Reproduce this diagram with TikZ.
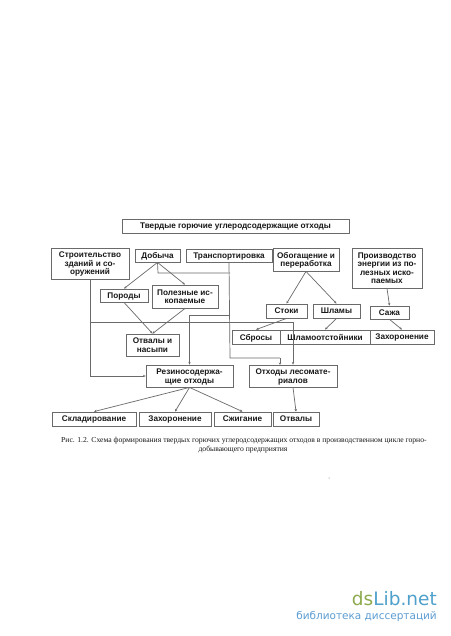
\documentclass[tikz,border=0pt]{standalone}
\usepackage{fontspec}
\setmainfont{Liberation Sans}
\newfontfamily\capfont{Liberation Serif}
\newfontfamily\logofont{DejaVu Sans}
\usetikzlibrary{arrows.meta,calc}
\definecolor{ink}{HTML}{181818}
\definecolor{wire}{HTML}{6A6A6A}
\definecolor{logogreen}{HTML}{8DAA4E}
\definecolor{logoblue}{HTML}{4FA0CB}
\definecolor{logotext}{HTML}{5C9DD2}
\tikzset{
  boxed/.style={draw=wire,line width=0.85pt,inner sep=0pt,align=center,text=ink,text depth=-1.4pt,
     font=\fontsize{8.2}{8.5}\selectfont\bfseries},
  link/.style={draw=wire,line width=0.7pt},
  arrowlink/.style={link,-{Stealth[length=2.6pt,width=2.4pt]}},
  captext/.style={inner sep=0pt,text=ink,font=\capfont\fontsize{7.65}{8}\selectfont},
}
% \bx{name}{x1}{y1}{x2}{y2}{text}
\newcommand{\bx}[6]{\node[boxed,minimum width={(#4-#2)*1pt},minimum height={(#5-#3)*1pt}] (#1) at ({(#2+#4)/2},{(#3+#5)/2}) {#6};}
\begin{document}
\begin{tikzpicture}[x=1pt,y=-1pt]
\useasboundingbox[fill=white] (0,0) rectangle (450,636);
\bx{title}{122}{219}{349}{233}{Твердые горючие углеродсодержащие отходы}
\bx{stroit}{51}{248}{129}{279}{Строительство\\зданий и со-\\оружений}
\bx{dob}{135}{249}{180}{262}{Добыча}
\bx{trans}{186}{249}{272}{262}{Транспортировка}
\bx{obog}{273}{248}{339}{271}{Обогащение и\\переработка}
\bx{proizv}{352}{248}{422}{288}{Производство\\энергии из по-\\лезных иско-\\паемых}
\bx{porody}{100}{289}{148}{302}{Породы}
\bx{polez}{152}{285}{218}{308}{Полезные ис-\\копаемые}
\bx{stoki}{266}{304}{307}{318}{Стоки}
\bx{shlamy}{313}{304}{360}{318}{Шламы}
\bx{sazha}{370}{306}{409}{319}{Сажа}
\bx{sbrosy}{232}{330}{280}{344}{Сбросы}
\bx{shlamoot}{280}{330}{370}{344}{Шламоотстойники}
\bx{zah}{370}{330}{434}{344}{Захоронение}
\bx{nasypi}{126}{334}{179}{356}{Отвалы и\\насыпи}
\bx{rez}{146}{365}{233}{387}{Резиносодержа-\\щие отходы}
\bx{les}{249}{365}{337}{387}{Отходы лесомате-\\риалов}
\bx{sklad}{52}{412}{136}{426}{Складирование}
\bx{zahb}{139}{412}{211}{426}{Захоронение}
\bx{szhig}{214}{412}{271}{426}{Сжигание}
\bx{otv}{273}{412}{319}{426}{Отвалы}

\coordinate (stroitj) at (90,322);
\coordinate (dobj) at (158,273);
\coordinate (dobe) at (230,273);
\coordinate (transj) at (230,315);
\coordinate (transk) at (230,358);
\coordinate (lesin) at (280,365);
\coordinate (lesk) at (280,358);

\draw[arrowlink] (stroit.south) |- (rez.west);
\draw[arrowlink] (stroitj) -| (les.north);
\draw[link] (dob.south) -- (dobj) -- (dobe);
\draw[link] (trans.south) -- (transk) -- (lesk);
\draw[arrowlink] (lesk) -- (lesin);
\draw[arrowlink] (transj) -| (rez.north);
\draw[arrowlink] (dob.south) -- (porody.north);
\draw[arrowlink] (dob.south) -- (polez.north);
\draw[arrowlink] (porody.south) -- (nasypi.north);
\draw[arrowlink] (polez.south) -- (nasypi.north);
\draw[arrowlink] (obog.south) -- (stoki.north);
\draw[arrowlink] (obog.south) -- (shlamy.north);
\draw[arrowlink] (proizv.south) -- (sazha.north);
\draw[arrowlink] (stoki.south) -- (sbrosy.north);
\draw[arrowlink] (shlamy.south) -- (shlamoot.north);
\draw[arrowlink] (sazha.south) -- (zah.north);
\draw[arrowlink] (rez.south) -- (sklad.north);
\draw[arrowlink] (rez.south) -- (zahb.north);
\draw[arrowlink] (rez.south) -- (szhig.north);
\draw[arrowlink] (les.south) -- (otv.north);

\node[captext,anchor=base west] (cap1) at (61,442) {Рис. 1.2. Схема формирования твердых горючих углеродсодержащих отходов в производственном цикле горно-};
\node[captext,anchor=base] (cap2) at (243,451) {добывающего предприятия};
\fill[wire] (329,478) circle (0.5);
\node[anchor=base east,inner sep=0pt,font=\logofont\fontsize{18.5}{18}\selectfont] (logo) at (437,605) {\textcolor{logogreen}{ds}\textcolor{logoblue}{Lib.net}};
\node[anchor=base east,inner sep=0pt,text=logotext,font=\logofont\fontsize{10.5}{11}\selectfont] (logosub) at (437,619) {библиотека диссертаций};
\end{tikzpicture}
\end{document}
